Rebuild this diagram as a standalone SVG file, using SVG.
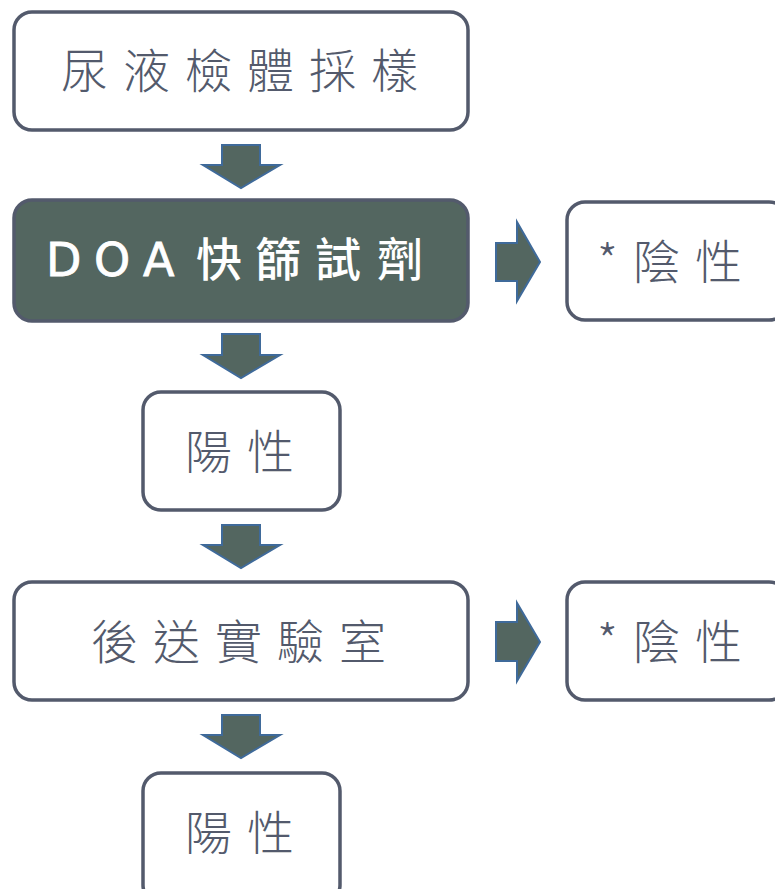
<svg xmlns="http://www.w3.org/2000/svg" width="775" height="889" viewBox="0 0 775 889">
<style>
.box{fill:#ffffff;stroke:#535a6c;stroke-width:3.5}
.dark{fill:#536660;stroke:#535a6c;stroke-width:3.5}
.t{font-family:"Noto Sans CJK TC","Noto Sans",sans-serif;font-size:47px;font-weight:300;fill:#535a6c;text-anchor:middle;dominant-baseline:central;letter-spacing:15px}
.tw{font-family:"Noto Sans CJK TC","Noto Sans",sans-serif;font-size:46px;font-weight:500;fill:#ffffff}
.lat{font-family:"DejaVu Sans",sans-serif;font-weight:normal;font-size:46px;stroke:#ffffff;stroke-width:0.8}
.arr{fill:#536660;stroke:#3f6a9a;stroke-width:2;stroke-linejoin:miter}
</style>
<g id="connectors">
<polygon class="arr" points="222,145 260,145 260,165 280,165 241,188 203,165 222,165"/>
<polygon class="arr" points="222,334 260,334 260,355 280,355 241,378 203,355 222,355"/>
<polygon class="arr" points="222,525 260,525 260,545 280,545 241,568 203,545 222,545"/>
<polygon class="arr" points="222,715 260,715 260,735 280,735 241,758 203,735 222,735"/>
<polygon class="arr" points="496,243 517,243 517,222 540,262 517,301 517,281 496,281"/>
<polygon class="arr" points="496,622 517,622 517,603 540,642 517,681 517,661 496,661"/>
</g>
<g id="n1"><rect class="box" x="14" y="12" width="454" height="118" rx="18"/><text class="t" x="247" y="67">尿液檢體採樣</text></g>
<g id="n2"><rect class="dark" x="14" y="200" width="454" height="121" rx="18"/><text class="tw" y="276"><tspan class="lat" x="46 94 143">DOA</tspan><tspan x="196 255 315 377">快篩試劑</tspan></text></g>
<g id="n3"><rect class="box" x="567" y="202" width="220" height="118" rx="18"/><text class="t" x="677" y="258">*陰性</text></g>
<g id="n4"><rect class="box" x="143" y="392" width="197" height="118" rx="18"/><text class="t" x="247" y="448">陽性</text></g>
<g id="n5"><rect class="box" x="14" y="582" width="454" height="118" rx="18"/><text class="t" x="246" y="638">後送實驗室</text></g>
<g id="n6"><rect class="box" x="567" y="582" width="220" height="118" rx="18"/><text class="t" x="677" y="638">*陰性</text></g>
<g id="n7"><rect class="box" x="143" y="773" width="197" height="130" rx="18"/><text class="t" x="247" y="829">陽性</text></g>
</svg>
